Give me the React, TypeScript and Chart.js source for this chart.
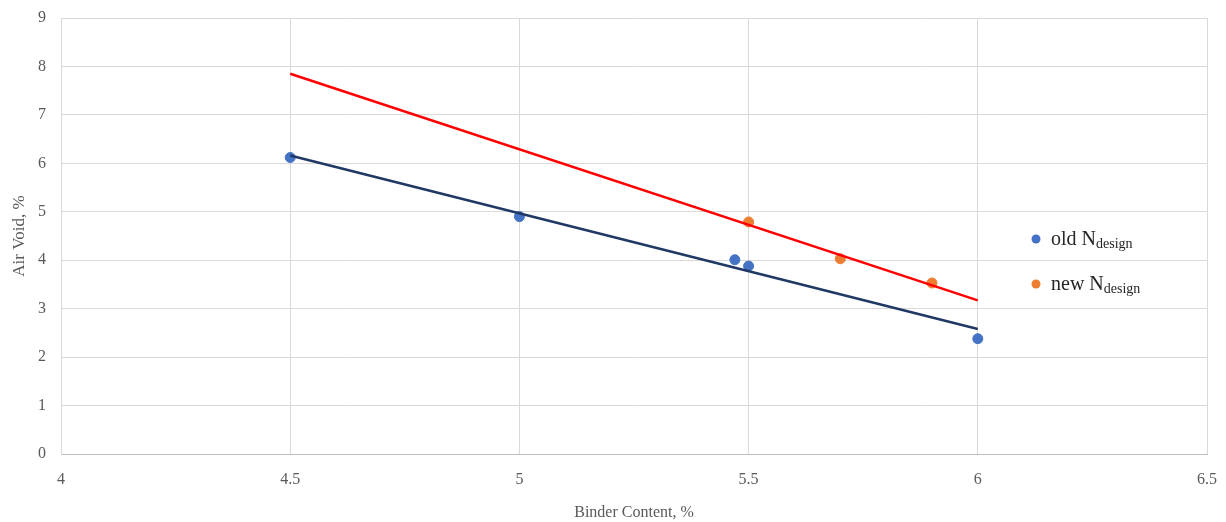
import React, { useEffect, useRef } from "react";
import { Chart, registerables } from "chart.js";

Chart.register(...registerables);

const oldX = [4.5, 5, 5.47, 5.5, 6];
const oldY = [6.12, 4.9, 4.01, 3.88, 2.38];
const newX = [5.5, 5.7, 5.9];
const newY = [4.79, 4.03, 3.53];
const trendX = [4.5, 6];
const oldTrendY = [6.16, 2.58];
const newTrendY = [7.85, 3.17];
const legendItems = [
  { base: "old N", sub: "design", color: "#4472C4" },
  { base: "new N", sub: "design", color: "#ED7D31" },
];

const FONT = '"Liberation Serif", "Times New Roman", serif';

const legendPlugin = {
  id: "subLegend",
  afterDraw(chart: any) {
    const ctx = chart.ctx;
    ctx.save();
    legendItems.forEach((it, i) => {
      const y = 238 + i * 45;
      ctx.beginPath();
      ctx.fillStyle = it.color;
      ctx.arc(1036, y + 1, 4.5, 0, Math.PI * 2);
      ctx.fill();
      ctx.fillStyle = "#262626";
      ctx.textBaseline = "alphabetic";
      ctx.textAlign = "left";
      ctx.font = `20px ${FONT}`;
      ctx.fillText(it.base, 1051, y + 7);
      const w = ctx.measureText(it.base).width;
      ctx.font = `14px ${FONT}`;
      ctx.fillText(it.sub, 1051 + w, y + 10);
    });
    ctx.restore();
  },
};

export default function App() {
  const ref = useRef<HTMLCanvasElement>(null);
  useEffect(() => {
    const chart = new Chart(ref.current!, {
      type: "scatter",
      data: {
        datasets: [
          {
            label: "old trend",
            data: trendX.map((x, i) => ({ x, y: oldTrendY[i] })),
            showLine: true,
            borderColor: "#203864",
            borderWidth: 2.5,
            pointRadius: 0,
          },
          {
            label: "new trend",
            data: trendX.map((x, i) => ({ x, y: newTrendY[i] })),
            showLine: true,
            borderColor: "#FF0000",
            borderWidth: 2.5,
            pointRadius: 0,
          },
          {
            label: "old Ndesign",
            data: oldX.map((x, i) => ({ x, y: oldY[i] })),
            backgroundColor: "#4472C4",
            borderColor: "#4472C4",
            pointRadius: 5,
          },
          {
            label: "new Ndesign",
            data: newX.map((x, i) => ({ x, y: newY[i] })),
            backgroundColor: "#ED7D31",
            borderColor: "#ED7D31",
            pointRadius: 5,
          },
        ],
      },
      options: {
        animation: false,
        responsive: true,
        maintainAspectRatio: false,
        layout: { padding: { top: 18, right: 19, left: 0, bottom: 0 } },
        plugins: { legend: { display: false }, tooltip: { enabled: false } },
        scales: {
          x: {
            type: "linear",
            min: 4,
            max: 6.5,
            afterFit: (s: any) => {
              s.height = 68;
              s.paddingLeft = 0;
              s.paddingRight = 0;
            },
            ticks: {
              stepSize: 0.5,
              color: "#595959",
              font: { family: FONT, size: 16 },
              padding: 16,
              callback: (v: any) => String(Number(v)),
            },
            grid: { color: "#D9D9D9", drawTicks: false },
            border: { color: "#BFBFBF" },
            title: {
              display: true,
              text: "Binder Content, %",
              color: "#595959",
              font: { family: FONT, size: 16 },
              padding: { top: 14, bottom: 0 },
            },
          },
          y: {
            min: 0,
            max: 9,
            afterFit: (s: any) => {
              s.width = 61;
              s.paddingTop = 0;
              s.paddingBottom = 0;
            },
            ticks: {
              stepSize: 1,
              color: "#595959",
              font: { family: FONT, size: 16 },
              padding: 15,
            },
            grid: { color: "#D9D9D9", drawTicks: false },
            border: { color: "#D9D9D9" },
            title: {
              display: true,
              text: "Air Void, %",
              color: "#595959",
              font: { family: FONT, size: 17 },
              padding: { top: 9, bottom: 0 },
            },
          },
        },
      },
      plugins: [legendPlugin],
    });
    return () => chart.destroy();
  }, []);
  return (
    <div style={{ position: "absolute", left: 0, top: 0, width: 1226, height: 522, background: "#fff" }}>
      <canvas ref={ref} />
    </div>
  );
}
